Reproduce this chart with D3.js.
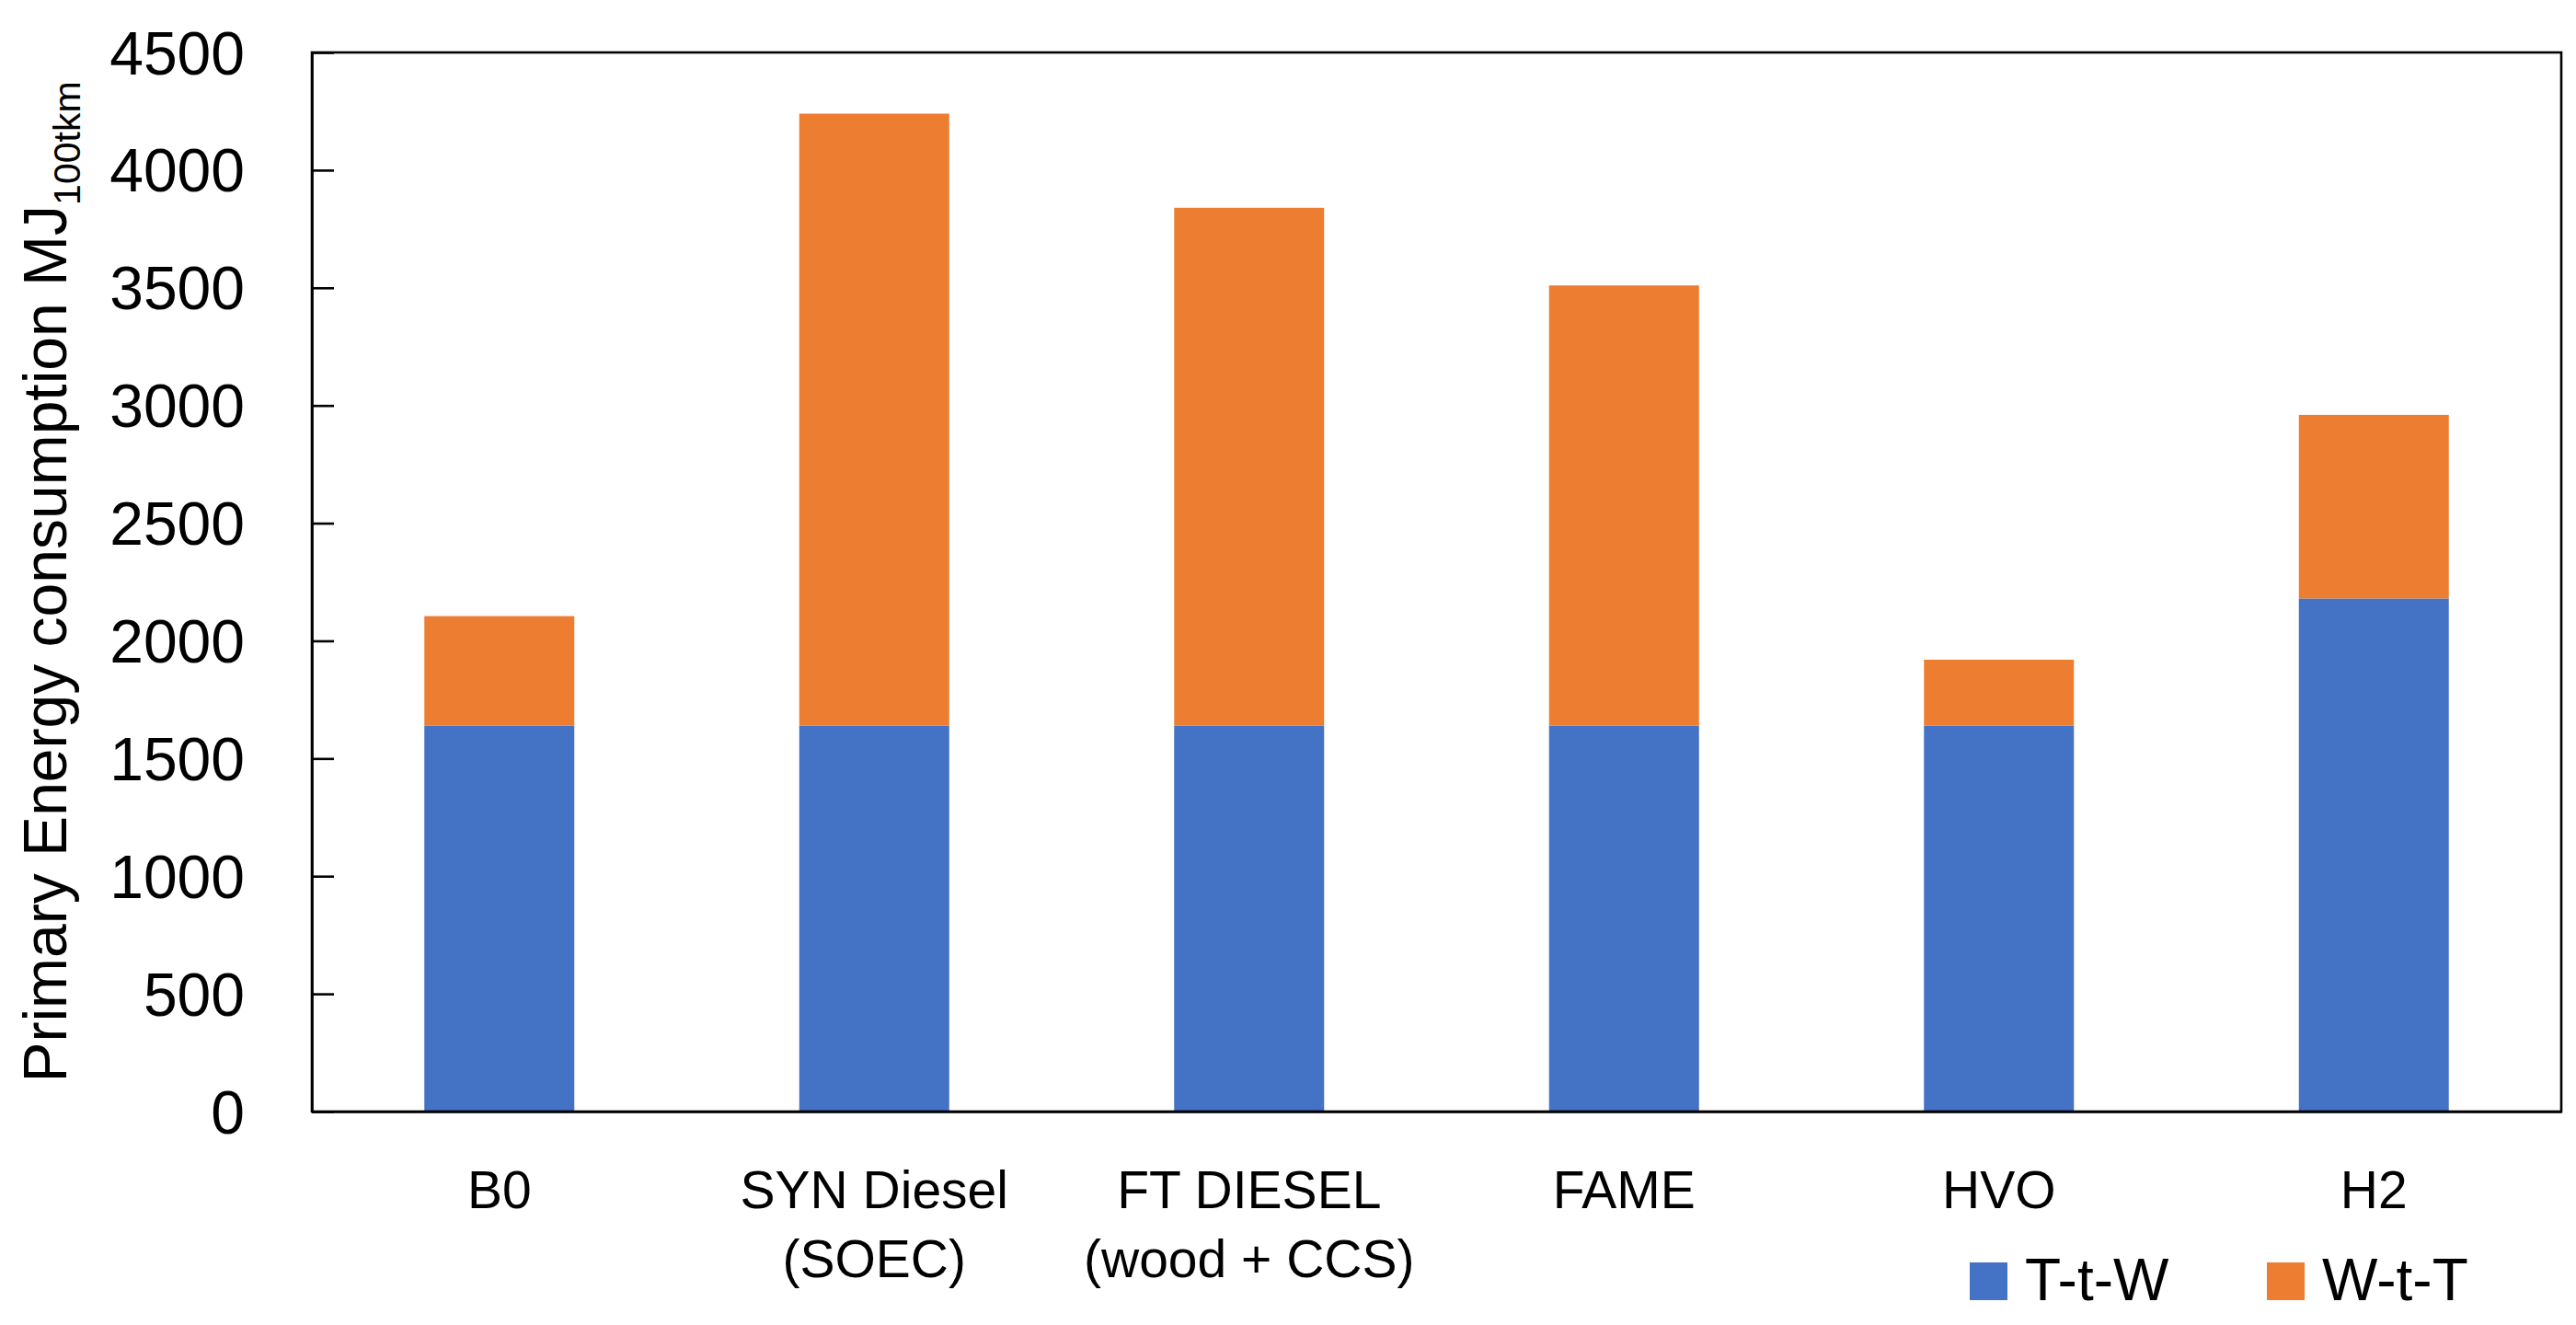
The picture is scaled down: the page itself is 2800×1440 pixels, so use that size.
<!DOCTYPE html>
<html>
<head>
<meta charset="utf-8">
<script src="https://cdn.jsdelivr.net/npm/d3@7"></script>
<style>
  body { margin: 0; background: #fff; }
  text { font-family: "Liberation Sans", Arial, sans-serif; fill: #000; }
</style>
</head>
<body>
<svg id="chart"></svg>
<script>
// fuel pathways (second line of label after \n)
var categories = ["B0", "SYN Diesel\n(SOEC)", "FT DIESEL\n(wood + CCS)", "FAME", "HVO", "H2"];
var ttw = [1640, 1640, 1640, 1640, 1640, 2180];   // T-t-W
var wtt = [465, 2600, 2200, 1870, 280, 780];      // W-t-T
var seriesNames = ["T-t-W", "W-t-T"];
var colors = ["#4472C4", "#ED7D31"];
var yTicks = [0, 500, 1000, 1500, 2000, 2500, 3000, 3500, 4000, 4500];

var svgWidth = 2800, svgHeight = 1440;
var margin = {top: 57, right: 16, bottom: 232, left: 339};
var width = svgWidth - margin.left - margin.right;
var height = svgHeight - margin.top - margin.bottom;

var svg = d3.select("#chart")
    .attr("width", svgWidth)
    .attr("height", svgHeight);

var g = svg.append("g")
    .attr("transform", "translate(" + margin.left + "," + margin.top + ")");

var x = d3.scaleBand()
    .domain(categories)
    .range([0, width])
    .paddingInner(0.6)
    .paddingOuter(0.3);

var y = d3.scaleLinear()
    .domain([0, 4500])
    .range([height, 0]);

var rows = categories.map(function(c, i) {
    return {cat: c, "T-t-W": ttw[i], "W-t-T": wtt[i]};
});
var stacked = d3.stack().keys(seriesNames)(rows);

g.selectAll(".layer")
    .data(stacked)
    .enter()
    .append("g")
    .attr("fill", function(d, i) { return colors[i]; })
    .selectAll("rect")
    .data(function(d) { return d; })
    .enter()
    .append("rect")
    .attr("x", function(d) { return x(d.data.cat); })
    .attr("y", function(d) { return y(d[1]); })
    .attr("height", function(d) { return y(d[0]) - y(d[1]); })
    .attr("width", x.bandwidth());

// plot border (top + right)
g.append("rect")
    .attr("width", width)
    .attr("height", height)
    .attr("fill", "none")
    .attr("stroke", "#000")
    .attr("stroke-width", 2.6);

var yAxis = g.append("g")
    .call(d3.axisLeft(y).tickValues(yTicks).tickFormat(d3.format("d"))
        .tickSizeInner(-24).tickSizeOuter(0).tickPadding(73));
yAxis.selectAll("line").attr("stroke", "#000").attr("stroke-width", 2.6);
yAxis.select(".domain").attr("stroke", "#000").attr("stroke-width", 2.6);
yAxis.selectAll("text").attr("font-size", 66).attr("dy", "0.35em")
    .style("font-family", "'Liberation Sans', Arial, sans-serif");

var xAxis = g.append("g")
    .attr("transform", "translate(0," + height + ")")
    .call(d3.axisBottom(x).tickSize(0).tickFormat(""));
xAxis.select(".domain").attr("stroke", "#000").attr("stroke-width", 2.6);

// two-line category labels
var labels = g.selectAll(".xlab")
    .data(categories)
    .enter()
    .append("text")
    .attr("class", "xlab")
    .attr("text-anchor", "middle")
    .attr("font-size", 57)
    .attr("transform", function(d) {
        return "translate(" + (x(d) + x.bandwidth() / 2) + "," + (height + 105) + ")";
    });
labels.selectAll("tspan")
    .data(function(d) { return d.split("\n"); })
    .enter()
    .append("tspan")
    .attr("x", 0)
    .attr("y", function(d, i) { return i * 75; })
    .text(function(d) { return d; });

// y title with subscript
var yTitle = svg.append("text")
    .attr("text-anchor", "middle")
    .attr("font-size", 66)
    .attr("transform", "translate(72," + (margin.top + height / 2) + ") rotate(-90)");
yTitle.append("tspan").text("Primary Energy consumption MJ");
yTitle.append("tspan").attr("font-size", 41).attr("dy", 15).text("100tkm");

// legend
var legendX = [2141, 2464];
var legend = svg.selectAll(".legend")
    .data(seriesNames)
    .enter()
    .append("g")
    .attr("class", "legend")
    .attr("transform", function(d, i) { return "translate(" + legendX[i] + ",1372)"; });
legend.append("rect")
    .attr("width", 41)
    .attr("height", 41)
    .attr("fill", function(d, i) { return colors[i]; });
legend.append("text")
    .attr("x", 60)
    .attr("y", 41)
    .attr("font-size", 64)
    .text(function(d) { return d; });
</script>
</body>
</html>
